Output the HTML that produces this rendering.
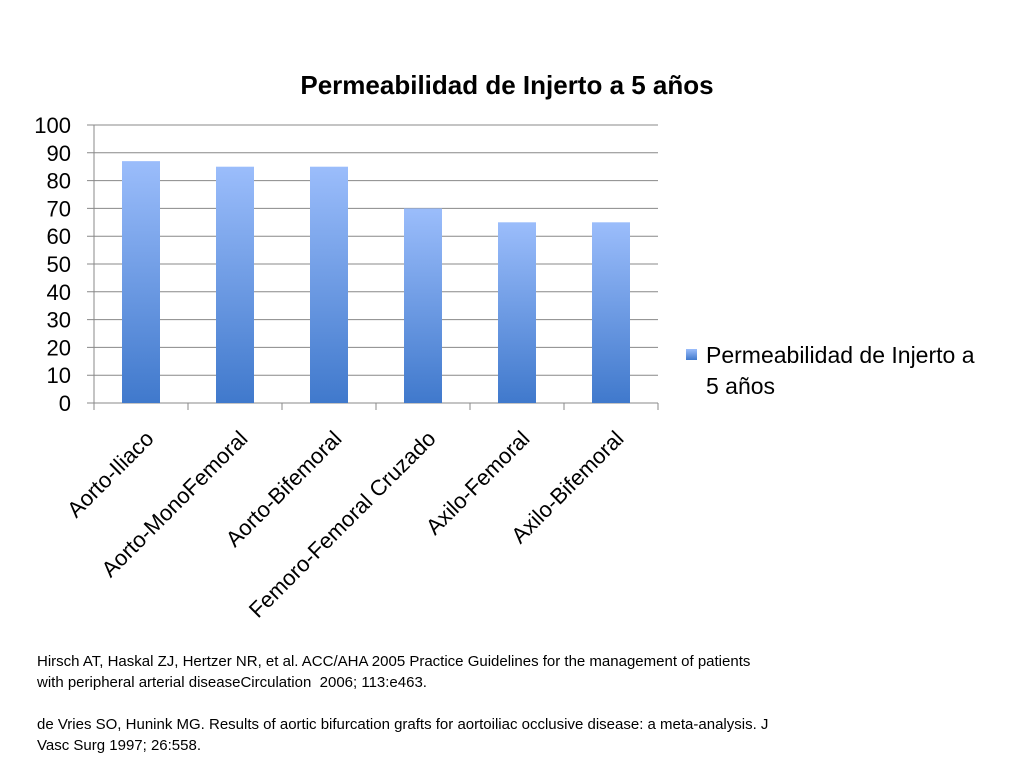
<!DOCTYPE html>
<html><head><meta charset="utf-8"><style>
body{margin:0;background:#fff;width:1024px;height:768px;overflow:hidden;font-family:"Liberation Sans",sans-serif}
.cite{position:absolute;left:37px;font-size:15px;line-height:21px;color:#000;white-space:nowrap}
</style></head><body>
<svg width="1024" height="768" style="position:absolute;left:0;top:0">
<defs><linearGradient id="g" x1="0" y1="0" x2="0" y2="1"><stop offset="0" stop-color="#9bbdfb"/><stop offset="1" stop-color="#4079cc"/></linearGradient></defs>
<text x="507" y="94" text-anchor="middle" font-size="26" font-weight="bold">Permeabilidad de Injerto a 5 años</text>
<g id="grid"></g><g id="bars"></g><g id="xl"></g>
<rect x="686" y="349" width="11" height="11" fill="url(#g)"/>
<text x="706" y="363" font-size="23"><tspan x="706">Permeabilidad de Injerto a</tspan><tspan x="706" dy="31">5 años</tspan></text>
</svg>
<div class="cite" style="top:651px">Hirsch AT, Haskal ZJ, Hertzer NR, et al. ACC/AHA 2005 Practice Guidelines for the management of patients<br>with peripheral arterial diseaseCirculation&nbsp; 2006; 113:e463.</div>
<div class="cite" style="top:714px">de Vries SO, Hunink MG. Results of aortic bifurcation grafts for aortoiliac occlusive disease: a meta-analysis. J<br>Vasc Surg 1997; 26:558.</div>
<script>
const categories=["Aorto-Iliaco","Aorto-MonoFemoral","Aorto-Bifemoral","Femoro-Femoral Cruzado","Axilo-Femoral","Axilo-Bifemoral"];
const values=[87,85,85,70,65,65];
const yTicks=[0,10,20,30,40,50,60,70,80,90,100];
const NS="http://www.w3.org/2000/svg";
const X0=94,X1=658,Y0=403,Y1=125;
const y=v=>Y0-(v/100)*(Y0-Y1);
const band=(X1-X0)/categories.length;
const cx=i=>X0+band*(i+0.5);
function mk(t,a,p){const e=document.createElementNS(NS,t);for(const k in a)e.setAttribute(k,a[k]);p.appendChild(e);return e;}
const G=document.getElementById('grid'),B=document.getElementById('bars'),XL=document.getElementById('xl');
yTicks.forEach(v=>{
 const l=mk('line',{x1:X0-7,x2:X1,y1:y(v),y2:y(v),stroke:'#888','stroke-width':1},G);
 
 
 const t=mk('text',{x:71,y:y(v)+8,'text-anchor':'end','font-size':22},G);
 t.textContent=v;
 
 
});
const ax=mk('line',{x1:X0,x2:X0,y1:Y1,y2:Y0+7,stroke:'#888'},G);


for(let i=0;i<=categories.length;i++){
 const tk=mk('line',{x1:X0+band*i,x2:X0+band*i,y1:Y0,y2:Y0+7,stroke:'#888'},G);
 
 
}
categories.forEach((c,i)=>{
 const r=mk('rect',{x:cx(i)-19,y:y(values[i]),width:38,height:Y0-y(values[i]),fill:'url(#g)'},B);
 
 
 const t=mk('text',{'text-anchor':'end','font-size':22,transform:`translate(${cx(i)+14},${440}) rotate(-45)`},XL);
 t.textContent=c;
 
 
});
</script>
</body></html>
